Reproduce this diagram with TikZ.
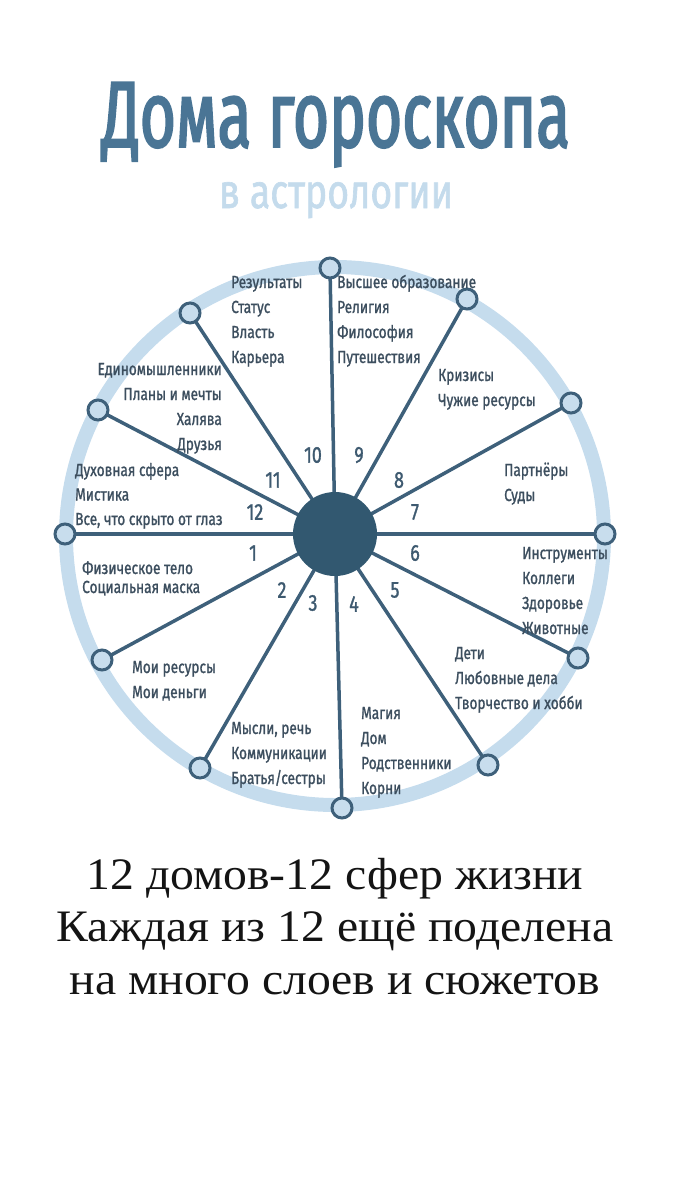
\documentclass[tikz,border=0pt]{standalone}
\usepackage{fontspec}
\usetikzlibrary{backgrounds}
\setmainfont[FakeStretch=1.06]{Liberation Serif}
\newfontfamily\lblfont[FakeStretch=0.78, FakeBold=1.2]{Fira Sans}
\newfontfamily\titlefont[FakeStretch=0.66, FakeBold=2]{Fira Sans}
\newfontfamily\subfont[FakeStretch=0.78, FakeBold=1.3]{Fira Sans}
\definecolor{titleblue}{RGB}{74,117,149}
\definecolor{subblue}{RGB}{196,219,236}
\definecolor{ringblue}{RGB}{197,220,237}
\definecolor{hubcol}{RGB}{50,88,112}
\definecolor{spokecol}{RGB}{62,96,122}
\definecolor{nodefill}{RGB}{200,221,237}
\definecolor{lblcol}{RGB}{60,78,94}
\definecolor{numcol}{RGB}{62,90,112}
\tikzset{
  ringline/.style={draw=ringblue, line width=14pt},
  spoke/.style={draw=spokecol, line width=3.5pt},
  hubdisc/.style={circle, fill=hubcol, minimum size=84pt, inner sep=0pt},
  endpt/.style={circle, draw=spokecol, fill=nodefill, line width=3pt, minimum size=20pt, inner sep=0pt},
  lbl/.style={text=lblcol, font=\lblfont\fontsize{17.5}{20}\selectfont, inner sep=0pt},
  num/.style={text=numcol, font=\lblfont\fontsize{23}{23}\selectfont, inner sep=0pt},
  bigtext/.style={text=black!92, font=\fontsize{45}{52}\selectfont, inner sep=0pt, anchor=base},
}
\newcommand\labelblock[6]{%
  \foreach \t [count=\i] in {#6} {
    \node[lbl, anchor=#5] (#1-\i) at ({#2}, {#3+(\i-1)*#4}) {\t};
  }
}
\begin{document}
\begin{tikzpicture}[x=1pt, y=-1pt]
\useasboundingbox (0,0) rectangle (675,1200);

% title
\node[text=titleblue, font=\titlefont\fontsize{94}{94}\selectfont, inner sep=0pt, anchor=base] (title) at (336,147) {Дома гороскопа};
\node[text=subblue, font=\subfont\fontsize{48}{48}\selectfont, inner sep=0pt, anchor=base] (subtitle) at (336,208) {в астрологии};

% hub and end points
\node[hubdisc] (hub) at (335,534) {};
\foreach \k/\x/\y in {1/330/268,2/190/313,3/98/410,4/65/534,5/102/660,6/200/768,7/342/808,8/488/765,9/578/658,10/605/534,11/571/403,12/467/299} {
  \node[endpt] (n\k) at (\x,\y) {};
}

% ring and spokes behind
\begin{pgfonlayer}{background}
\draw[ringline] (335,536) circle[radius=269];
\foreach \k in {1,...,12} {
  \draw[spoke] (hub.center) -- (n\k.center);
}
\end{pgfonlayer}

% house numbers
\node[num] (h1) at (253,553) {1};
\node[num] (h2) at (282,590) {2};
\node[num] (h3) at (313,603) {3};
\node[num] (h4) at (354,604) {4};
\node[num] (h5) at (395,590) {5};
\node[num] (h6) at (415,553) {6};
\node[num] (h7) at (415,512) {7};
\node[num] (h8) at (399,480) {8};
\node[num] (h9) at (359,455) {9};
\node[num] (h10) at (313,455) {10};
\node[num] (h11) at (273,480) {11};
\node[num] (h12) at (255,512) {12};

% labels
\labelblock{l10}{231}{288}{25}{base west}{Результаты,Статус,Власть,Карьера}
\labelblock{l9}{337}{288}{25}{base west}{Высшее образование,Религия,Философия,Путешествия}
\labelblock{l11}{222}{375}{25}{base east}{Единомышленники,Планы и мечты,Халява,Друзья}
\labelblock{l12}{75}{476}{24.5}{base west}{Духовная сфера,Мистика,{Все, что скрыто от глаз}}
\labelblock{l8}{438}{381}{25}{base west}{Кризисы,Чужие ресурсы}
\labelblock{l7}{504}{476}{25}{base west}{Партнёры,Суды}
\labelblock{l1}{82}{574}{19}{base west}{Физическое тело,Социальная маска}
\labelblock{l2}{132}{673}{25}{base west}{Мои ресурсы,Мои деньги}
\labelblock{l3}{231}{734}{25}{base west}{{Мысли, речь},Коммуникации,Братья/сестры}
\labelblock{l4}{361}{719}{25}{base west}{Магия,Дом,Родственники,Корни}
\labelblock{l5}{455}{659}{25}{base west}{Дети,Любовные дела,Творчество и хобби}
\labelblock{l6}{522}{559}{25}{base west}{Инструменты,Коллеги,Здоровье,Животные}

% bottom text
\node[bigtext] (b1) at (335,889) {12 домов-12 сфер жизни};
\node[bigtext] (b2) at (335,941) {Каждая из 12 ещё поделена};
\node[bigtext] (b3) at (335,994) {на много слоев и сюжетов};
\end{tikzpicture}
\end{document}
